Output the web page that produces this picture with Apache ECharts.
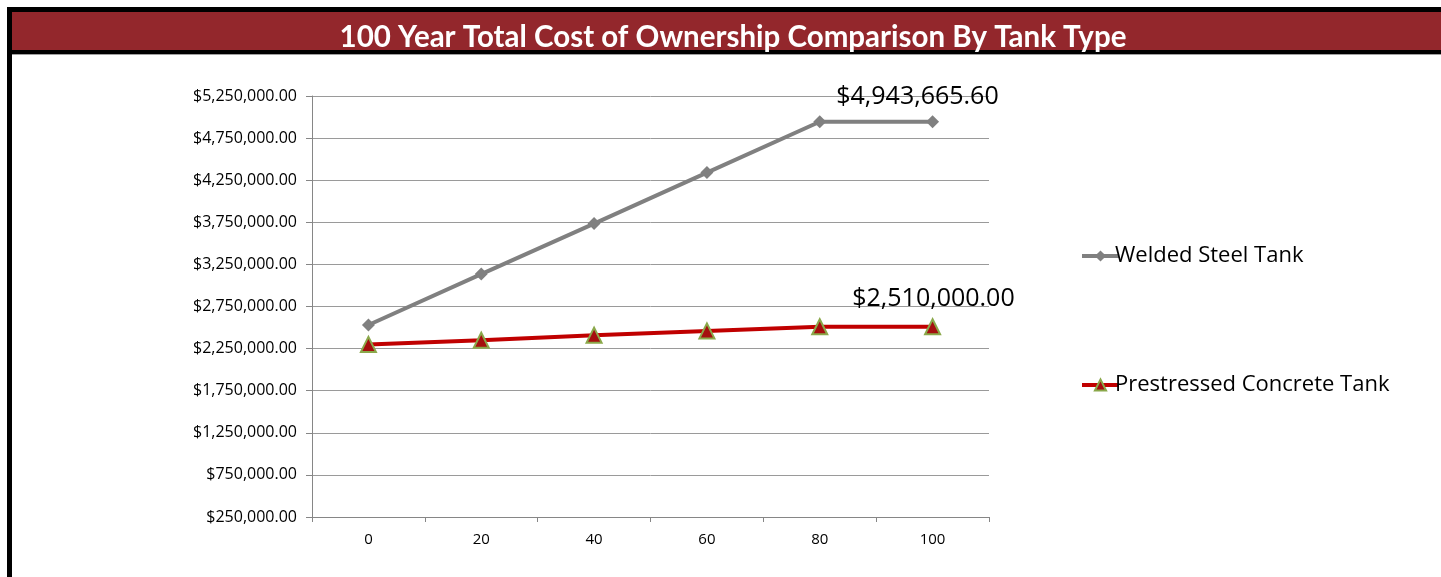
<!DOCTYPE html>
<html>
<head>
<meta charset="utf-8">
<title>100 Year Total Cost of Ownership</title>
<script src="https://cdn.jsdelivr.net/npm/echarts@6/dist/echarts.min.js"></script>
<style>
  html, body { margin: 0; padding: 0; background: #fff; }
  #chart { width: 1441px; height: 577px; }
</style>
</head>
<body>
<div id="chart"></div>
<script>
// data
var years = ['0', '20', '40', '60', '80', '100'];
var weldedSteel = [2530000, 3135000, 3735000, 4340000, 4943665.60, 4943665.60];
var prestressedConcrete = [2300000, 2350000, 2410000, 2460000, 2510000, 2510000];
var yMin = 250000, yMax = 5250000, yStep = 500000;
var labelIndex = 4; // point carrying the value label

function money(v) {
    return '$' + Number(v).toLocaleString('en-US', { minimumFractionDigits: 2, maximumFractionDigits: 2 });
}

var myChart = echarts.init(document.getElementById('chart'));
var font = '"Open Sans", "Liberation Sans", sans-serif';

var option = {
    backgroundColor: '#fff',
    animation: false,
    textStyle: { fontFamily: font },
    // frame and header bar
    graphic: [
        { type: 'rect', shape: { x: 7, y: 7, width: 1434, height: 5 }, style: { fill: '#000' } },
        { type: 'rect', shape: { x: 7, y: 7, width: 5, height: 570 }, style: { fill: '#000' } },
        { type: 'rect', shape: { x: 12, y: 12, width: 1429, height: 38 }, style: { fill: '#93272C' } },
        { type: 'rect', shape: { x: 12, y: 50, width: 1429, height: 4 }, style: { fill: '#000' } },
        { type: 'rect', shape: { x: 12, y: 54, width: 1429, height: 1 }, style: { fill: '#A0A0A0' } }
    ],
    title: {
        text: '100 Year Total Cost of Ownership Comparison By Tank Type',
        left: 728,
        textAlign: 'center',
        top: 17,
        textStyle: {
            color: '#fff',
            fontSize: 29.5,
            fontWeight: 'bold',
            fontFamily: 'Lato, "Open Sans", sans-serif'
        }
    },
    grid: {
        left: 312,
        right: 452,
        top: 96,
        bottom: 60
    },
    legend: {
        orient: 'vertical',
        left: 1075,
        top: 240,
        itemWidth: 37,
        itemHeight: 14,
        itemGap: 107,
        lineStyle: { width: 4 },
        textStyle: { fontSize: 22, color: '#000', fontFamily: font, padding: [0, 0, 0, -9] },
        data: ['Welded Steel Tank', 'Prestressed Concrete Tank']
    },
    xAxis: {
        type: 'category',
        data: years,
        boundaryGap: true,
        axisLine: { lineStyle: { color: '#868686' } },
        axisTick: { show: true, length: 5, lineStyle: { color: '#868686' } },
        axisLabel: { color: '#000', fontSize: 15, margin: 15 }
    },
    yAxis: {
        type: 'value',
        min: yMin,
        max: yMax,
        interval: yStep,
        axisLine: { show: true, lineStyle: { color: '#868686' } },
        axisTick: { show: true, length: 6, lineStyle: { color: '#868686' } },
        splitLine: { lineStyle: { color: '#9A9A9A' } },
        axisLabel: { color: '#000', fontSize: 16, margin: 15, formatter: money }
    },
    series: [
        {
            name: 'Welded Steel Tank',
            type: 'line',
            data: weldedSteel,
            symbol: 'diamond',
            symbolSize: 13,
            lineStyle: { color: '#808080', width: 4 },
            itemStyle: { color: '#808080' },
            label: {
                show: true,
                position: 'right',
                offset: [5, -25],
                fontSize: 25,
                color: '#000',
                formatter: function (p) { return p.dataIndex === labelIndex ? money(p.value) : ''; }
            }
        },
        {
            name: 'Prestressed Concrete Tank',
            type: 'line',
            data: prestressedConcrete,
            symbol: 'triangle',
            symbolSize: 15,
            lineStyle: { color: '#C00000', width: 4 },
            itemStyle: { color: '#A50F0F', borderColor: '#8AA84A', borderWidth: 2 },
            label: {
                show: true,
                position: 'right',
                offset: [19, -28],
                fontSize: 25,
                color: '#000',
                formatter: function (p) { return p.dataIndex === labelIndex ? money(p.value) : ''; }
            }
        }
    ]
};

myChart.setOption(option);
window.addEventListener('resize', function () {
    myChart.resize();
});
</script>
</body>
</html>
